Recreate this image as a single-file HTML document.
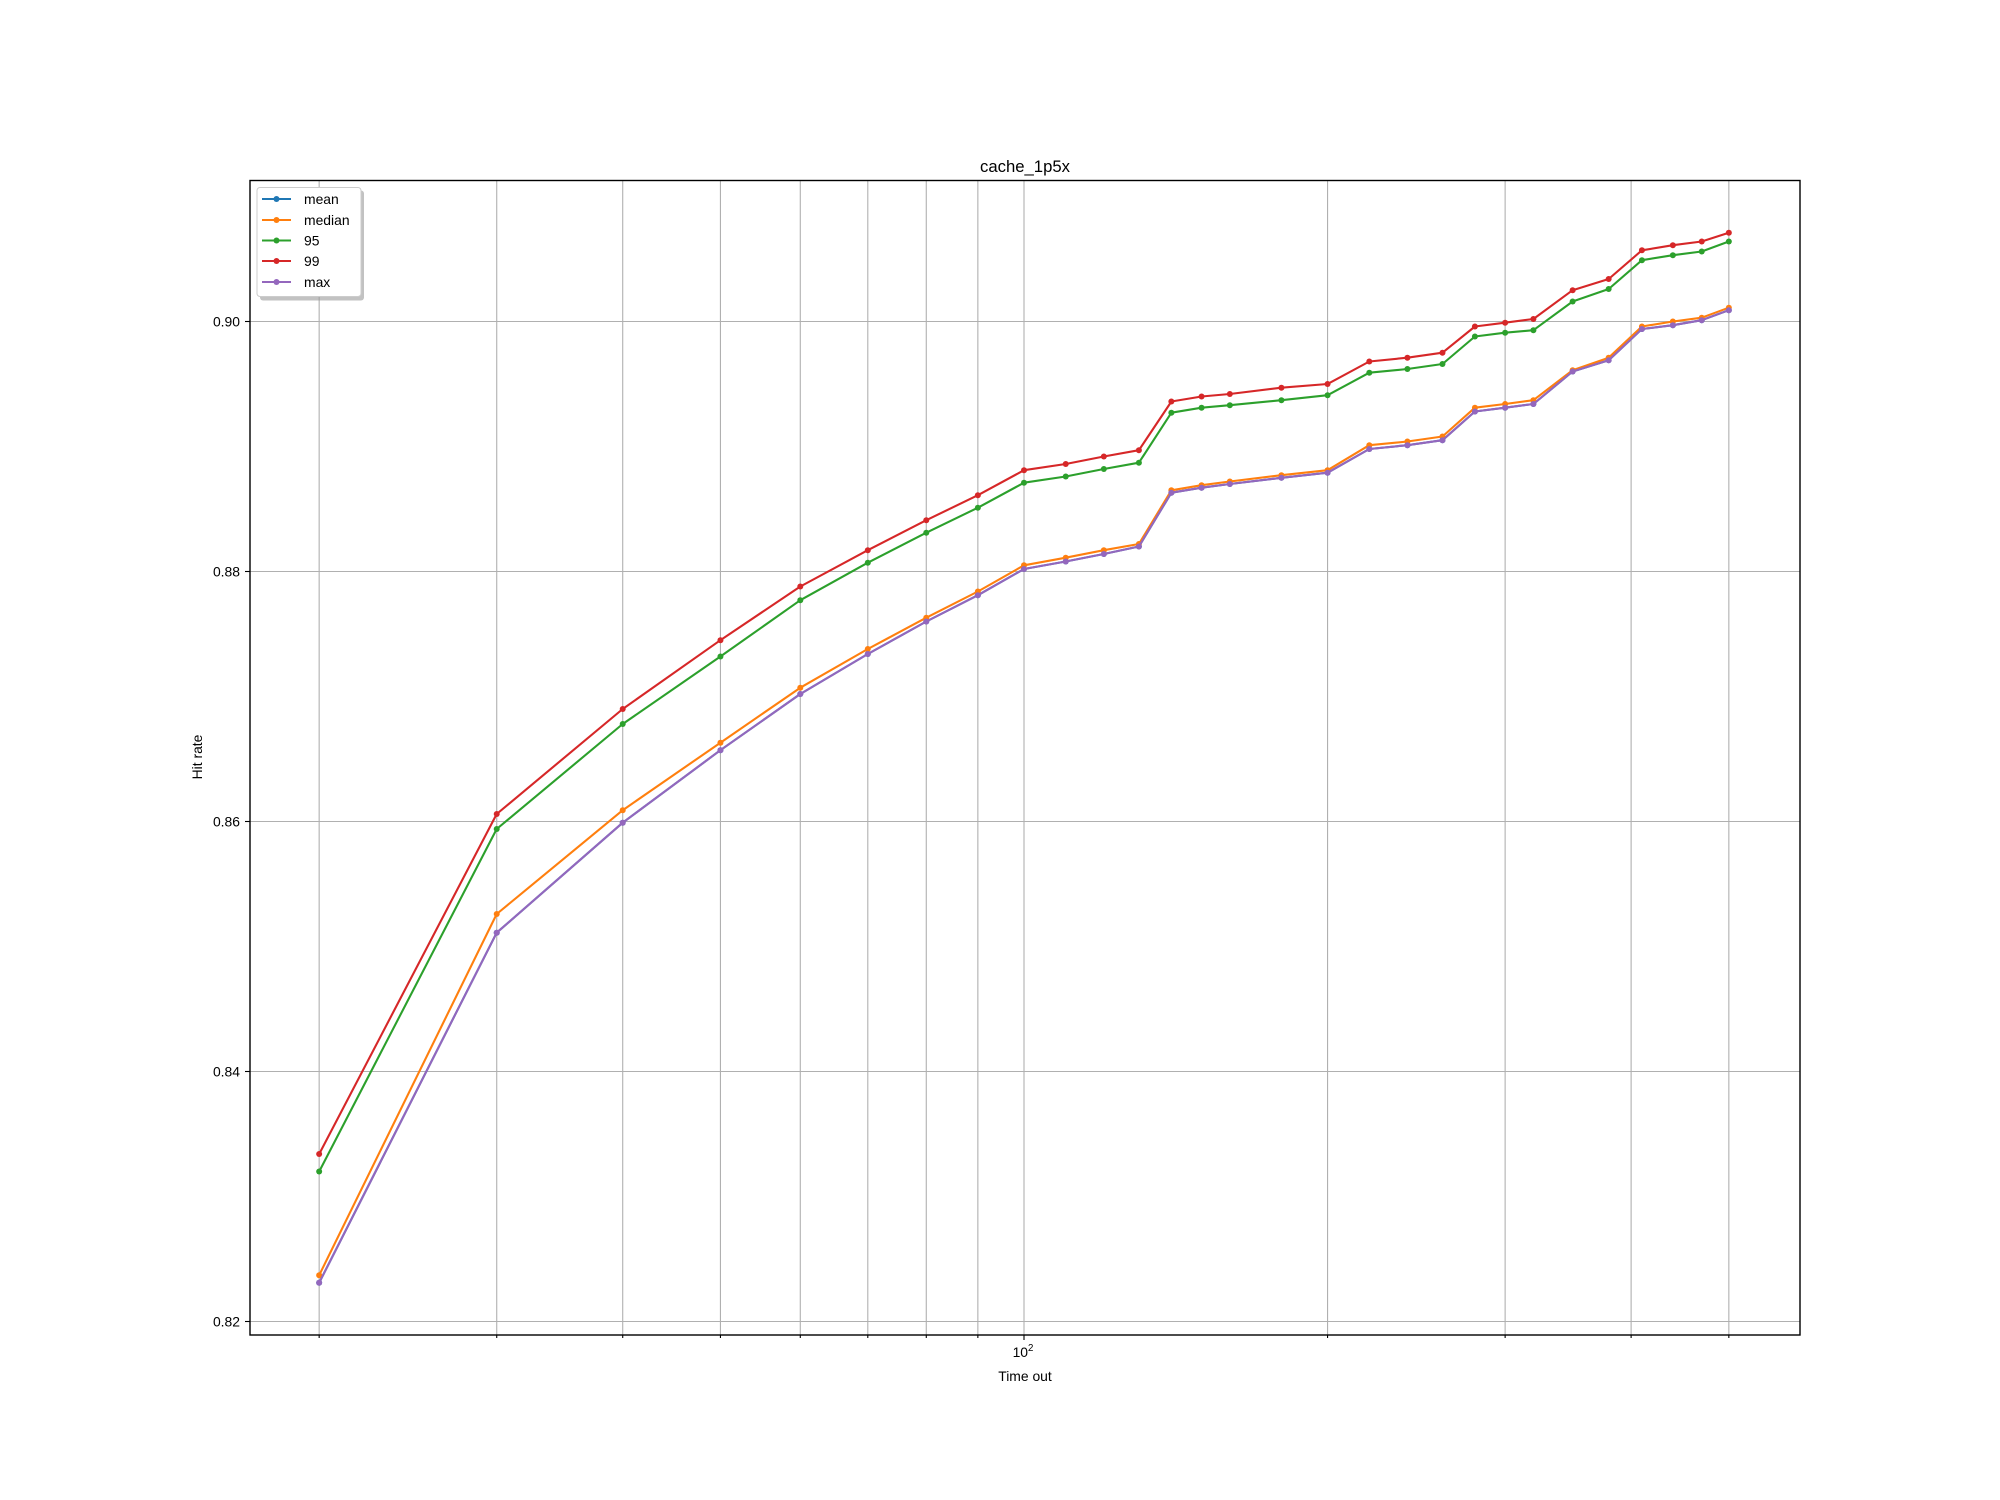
<!DOCTYPE html>
<html><head><meta charset="utf-8"><style>
html,body{margin:0;padding:0;background:#fff;}
svg{display:block;font-family:"Liberation Sans","DejaVu Sans",sans-serif;}
</style></head><body>
<svg id="chart" width="2000" height="1500" viewBox="0 0 2000 1500" xmlns="http://www.w3.org/2000/svg">
<rect x="0" y="0" width="2000" height="1500" fill="#fff"/>
<g id="grid"></g>
<g id="series"></g>
<rect x="250" y="180.5" width="1550" height="1154.5" fill="none" stroke="#000" stroke-width="1.4"/>
<g id="axes"></g>
<text x="1025" y="172" font-size="16.7" text-anchor="middle">cache_1p5x</text>
<text x="1025" y="1381" font-size="13.9" text-anchor="middle">Time out</text>
<text transform="translate(202,757) rotate(-90)" font-size="13.9" text-anchor="middle">Hit rate</text>
<g id="legend"></g>
</svg>
<script>
const timeouts = [20,30,40,50,60,70,80,90,100,110,120,130,140,150,160,180,200,220,240,260,280,300,320,350,380,410,440,470,500];
const meanVals = [0.8231,0.8511,0.8599,0.8657,0.8702,0.8734,0.8760,0.8781,0.8802,0.8808,0.8814,0.8820,0.8863,0.8867,0.8870,0.8875,0.8879,0.8898,0.8901,0.8905,0.8928,0.8931,0.8934,0.8960,0.8969,0.8994,0.8997,0.9001,0.9009];
const medianVals = [0.8237,0.8526,0.8609,0.8663,0.8707,0.8738,0.8763,0.8784,0.8805,0.8811,0.8817,0.8822,0.8865,0.8869,0.8872,0.8877,0.8881,0.8901,0.8904,0.8908,0.8931,0.8934,0.8937,0.8961,0.8971,0.8996,0.9000,0.9003,0.9011];
const p95Vals = [0.8320,0.8594,0.8678,0.8732,0.8777,0.8807,0.8831,0.8851,0.8871,0.8876,0.8882,0.8887,0.8927,0.8931,0.8933,0.8937,0.8941,0.8959,0.8962,0.8966,0.8988,0.8991,0.8993,0.9016,0.9026,0.9049,0.9053,0.9056,0.9064];
const p99Vals = [0.8334,0.8606,0.8690,0.8745,0.8788,0.8817,0.8841,0.8861,0.8881,0.8886,0.8892,0.8897,0.8936,0.8940,0.8942,0.8947,0.8950,0.8968,0.8971,0.8975,0.8996,0.8999,0.9002,0.9025,0.9034,0.9057,0.9061,0.9064,0.9071];
const maxVals = [0.8231,0.8511,0.8599,0.8657,0.8702,0.8734,0.8760,0.8781,0.8802,0.8808,0.8814,0.8820,0.8863,0.8867,0.8870,0.8875,0.8879,0.8898,0.8901,0.8905,0.8928,0.8931,0.8934,0.8960,0.8969,0.8994,0.8997,0.9001,0.9009];
const seriesNames = ["mean","median","95","99","max"];
const yTicks = [0.82,0.84,0.86,0.88,0.90];
const yTickLabels = ["0.82","0.84","0.86","0.88","0.90"];
const xGridTicks = [20,30,40,50,60,70,80,90,100,200,300,400,500];
const xMajorTicks = [100];

const NS = "http://www.w3.org/2000/svg";
const colors = ["#1f77b4","#ff7f0e","#2ca02c","#d62728","#9467bd"];
const allSeries = [meanVals, medianVals, p95Vals, p99Vals, maxVals];
function xScale(v){ return 1024 + 1008.4*Math.log10(v/100); }
function yScale(v){ return 1321.5 - (v-0.82)*12500; }
function mk(tag, attrs, parent){ const e=document.createElementNS(NS,tag); for(const k in attrs) e.setAttribute(k,attrs[k]); parent.appendChild(e); return e; }

const grid=document.getElementById('grid'), axes=document.getElementById('axes');
xGridTicks.forEach(t=>{
  const x=xScale(t);
  const l=mk('line',{x1:x,x2:x,y1:180.5,y2:1335,stroke:'#b0b0b0','stroke-width':1.1},grid);
  
  
  const tk=mk('line',{x1:x,x2:x,y1:1335,y2:xMajorTicks.includes(t)?1340:1338,stroke:'#000','stroke-width':1.1},axes);
  
  
});
xMajorTicks.forEach(t=>{
  const tx=mk('text',{x:xScale(t)-1,y:1357,'font-size':13.9,'text-anchor':'middle'},axes);
  tx.textContent='10';
  const sp=mk('tspan',{dy:-6,'font-size':9.7},tx);
  sp.textContent='2';
  
  
});
yTicks.forEach((t,i)=>{
  const y=yScale(t);
  const l=mk('line',{x1:250,x2:1800,y1:y,y2:y,stroke:'#b0b0b0','stroke-width':1.1},grid);
  
  
  const tk=mk('line',{x1:245,x2:250,y1:y,y2:y,stroke:'#000','stroke-width':1.1},axes);
  
  
  const tx=mk('text',{x:240,y:y+5,'font-size':13.9,'text-anchor':'end'},axes);
  tx.textContent=yTickLabels[i];
  
  
});

const sg=document.getElementById('series');
allSeries.forEach((vals,si)=>{
  const g=mk('g',{},sg);
  
  
  const pts=vals.map((v,i)=>xScale(timeouts[i]).toFixed(1)+','+yScale(v).toFixed(1)).join(' ');
  const pl=mk('polyline',{points:pts,fill:'none',stroke:colors[si],'stroke-width':2.1,'stroke-linejoin':'round'},g);
  
  
  vals.forEach((v,i)=>{
    const c=mk('circle',{cx:xScale(timeouts[i]),cy:yScale(v),r:3,fill:colors[si]},g);
    
    
  });
});

const lg=document.getElementById('legend');
const sh=mk('rect',{x:260,y:190.5,width:104,height:110,rx:3,fill:'#999',opacity:0.6},lg);


const box=mk('rect',{x:257,y:187.5,width:104,height:109,rx:3,fill:'#fff',stroke:'#ccc','stroke-width':1},lg);


const rowsY=[199,220,240.5,261,282];
seriesNames.forEach((n,i)=>{
  const g=mk('g',{},lg);
  
  
  mk('line',{x1:262,x2:291,y1:rowsY[i],y2:rowsY[i],stroke:colors[i],'stroke-width':2.1},g);
  mk('circle',{cx:276.5,cy:rowsY[i],r:3,fill:colors[i]},g);
  const t=mk('text',{x:304,y:rowsY[i]+5,'font-size':13.9},g);
  t.textContent=n;
});
</script>
</body></html>
